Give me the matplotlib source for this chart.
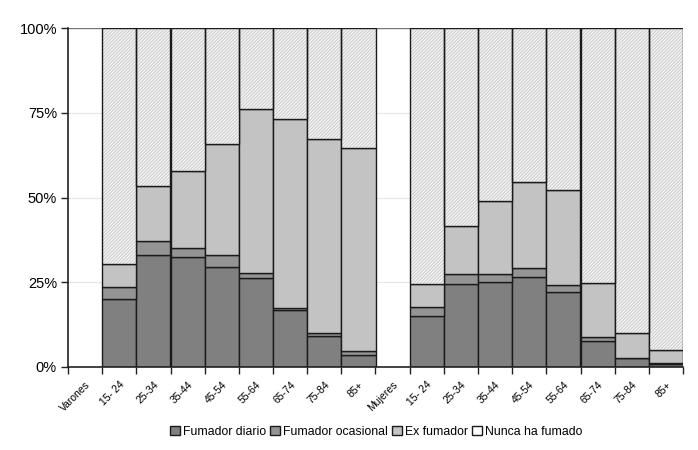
import matplotlib
matplotlib.use('Agg')
import matplotlib.pyplot as plt
import numpy as np
from matplotlib.patches import Patch

plt.rcParams['font.family'] = ['Liberation Sans Narrow', 'Liberation Sans', 'DejaVu Sans']
plt.rcParams['hatch.linewidth'] = 0.6

labels = ['Varones', '15- 24', '25-34', '35-44', '45-54', '55-64', '65-74', '75-84', '85+',
          'Mujeres', '15- 24', '25-34', '35-44', '45-54', '55-64', '65-74', '75-84', '85+']

# porcentajes por grupo (varones, mujeres)
diario_v = [20.2, 32.9, 32.5, 29.5, 26.2, 16.8, 9.1, 3.4]
ocasional_v = [3.5, 4.3, 2.6, 3.6, 1.6, 0.6, 0.8, 1.4]
ex_v = [6.8, 16.1, 22.7, 32.7, 48.3, 55.8, 57.4, 59.8]

diario_m = [15.0, 24.4, 25.0, 26.5, 22.2, 7.8, 2.6, 0.9]
ocasional_m = [2.6, 2.9, 2.5, 2.8, 2.0, 1.0, 0.2, 0.3]
ex_m = [6.8, 14.3, 21.5, 25.3, 28.0, 16.1, 7.2, 3.8]

x_v = np.arange(1, 9)
x_m = np.arange(10, 18)
x = np.concatenate([x_v, x_m])
diario = np.array(diario_v + diario_m)
ocasional = np.array(ocasional_v + ocasional_m)
ex = np.array(ex_v + ex_m)
nunca = 100 - diario - ocasional - ex

fig = plt.figure(figsize=(6.98, 4.5), dpi=100)
ax = fig.add_axes([68/698, 1-367/450, 615/698, 339/450])

for g in [25, 50, 75]:
    ax.axhline(g, color='#e6e6e6', lw=0.8, zorder=0)
ax.axhline(100, color='#777777', lw=1.0, zorder=1)

kw = dict(width=1.0, edgecolor='#1a1a1a', linewidth=1.0, zorder=2)
ax.bar(x, diario, color='#808080', **kw)
ax.bar(x, ocasional, bottom=diario, color='#949494', **kw)
ax.bar(x, ex, bottom=diario + ocasional, color='#c3c3c3', **kw)
base = diario + ocasional + ex
ax.bar(x, nunca, bottom=base, width=1.0, color='#f4f4f4', edgecolor='#c4c4c4',
       hatch='//////////', linewidth=0, zorder=2)
ax.bar(x, nunca, bottom=base, width=1.0, fill=False, edgecolor='#1a1a1a',
       linewidth=1.0, zorder=2)

ax.set_xlim(-0.5, 17.5)
ax.set_ylim(0, 100)
ax.set_yticks([0, 25, 50, 75, 100])
ax.set_yticklabels(['0%', '25%', '50%', '75%', '100%'], fontsize=10.5)
ax.set_xticks(np.arange(18))
ax.set_xticklabels(labels, rotation=45, ha='right', rotation_mode='anchor', fontsize=7.5)
ax.set_xticks(np.arange(-0.5, 18, 1), minor=True)
ax.tick_params(axis='x', which='major', length=0, pad=9)
ax.tick_params(axis='x', which='minor', length=5, width=1, color='#222222')
ax.tick_params(axis='y', length=5, width=1, color='#222222', pad=3)

for s in ['top', 'right']:
    ax.spines[s].set_visible(False)
for s in ['left', 'bottom']:
    ax.spines[s].set_linewidth(1.2)
    ax.spines[s].set_color('#222222')

handles = [Patch(facecolor='#808080', edgecolor='#1a1a1a', label='Fumador diario'),
           Patch(facecolor='#949494', edgecolor='#1a1a1a', label='Fumador ocasional'),
           Patch(facecolor='#c3c3c3', edgecolor='#1a1a1a', label='Ex fumador'),
           Patch(facecolor='white', edgecolor='#1a1a1a', label='Nunca ha fumado')]
fig.legend(handles=handles, loc='center', bbox_to_anchor=(376/698, 1-432/450), ncol=4,
           frameon=False, fontsize=8.8, handlelength=0.8, handleheight=0.8,
           handletextpad=0.25, columnspacing=0.35)

fig.savefig('out.png', dpi=100)
